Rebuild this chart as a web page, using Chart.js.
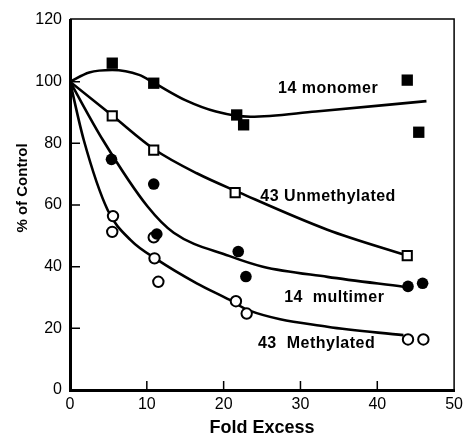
<!DOCTYPE html>
<html>
<head>
<meta charset="utf-8">
<script src="https://cdn.jsdelivr.net/npm/chart.js@4.4.1/dist/chart.umd.min.js"></script>
<style>
  html, body { margin: 0; padding: 0; background: #fff; }
</style>
</head>
<body>
<canvas id="chart" width="468" height="439"></canvas>
<script>
// measured points (fold excess, % of control)
const monomerX = [5.5, 10.9, 21.7, 22.6, 43.9, 45.4];
const monomerY = [106, 99.5, 89.2, 86, 100.5, 83.6];
const unmethX = [5.5, 10.9, 21.5, 43.9];
const unmethY = [88.9, 77.8, 64, 43.6];
const multimerX = [5.4, 10.9, 11.3, 21.9, 22.9, 44, 45.9];
const multimerY = [74.8, 66.8, 50.6, 44.9, 36.8, 33.6, 34.6];
const methX = [5.6, 5.5, 10.9, 11.0, 11.5, 21.6, 23.0, 44.0, 46.0];
const methY = [56.4, 51.3, 49.5, 42.7, 35.1, 28.8, 24.8, 16.4, 16.4];

// hand-drawn fit curves
const monomerFitX = [0, 2.5, 5.5, 9, 11, 15, 19, 23.5, 32, 46.4];
const monomerFitY = [100, 103, 103.8, 102.2, 99.5, 94, 90.3, 88.6, 90.3, 93.7];
const unmethFitX = [0, 5.5, 11, 16.5, 22, 33.5, 44];
const unmethFitY = [100, 89, 78, 70.3, 64.1, 52, 43.5];
const multimerFitX = [0, 4.3, 10.1, 13.5, 20.7, 25.1, 33.5, 43.4];
const multimerFitY = [100, 81, 59.5, 51, 43.5, 40, 36.7, 33.5];
const methFitX = [0, 1.8, 4.9, 7.9, 11.4, 16.5, 20.8, 23.2, 33.5, 43.4];
const methFitY = [100, 81, 58.4, 48.6, 42.2, 34.6, 29.2, 25.9, 20.5, 17.8];

// tick values
const xTicks = [0, 10, 20, 30, 40, 50];
const yTicks = [0, 20, 40, 60, 80, 100, 120];

// curve labels: text and anchor in data units
const labelText = ['14 monomer', '43 Unmethylated', '14  multimer', '43  Methylated'];
const labelX = [33.6, 33.6, 34.4, 32.1];
const labelY = [97.6, 62.8, 30, 15.1];

const toPts = (xs, ys) => xs.map((x, i) => ({ x: x, y: ys[i] }));

const fit = (xs, ys) => ({
  data: toPts(xs, ys),
  showLine: true,
  pointRadius: 0,
  borderColor: '#000',
  borderWidth: 2.6,
  cubicInterpolationMode: 'monotone',
  order: 2
});

const marks = (xs, ys, style, r, open) => ({
  data: toPts(xs, ys),
  showLine: false,
  pointStyle: style,
  pointRadius: r,
  backgroundColor: open ? '#fff' : '#000',
  borderColor: '#000',
  borderWidth: open ? 2 : 0,
  order: 1
});

const decor = {
  id: 'decor',
  afterDraw(chart) {
    const { ctx, chartArea: a, scales: { x, y } } = chart;
    ctx.save();
    ctx.strokeStyle = '#000';
    ctx.lineWidth = 1.5;
    ctx.beginPath();
    // top and right frame
    ctx.moveTo(a.left, a.top - 1);
    ctx.lineTo(a.right, a.top - 1);
    ctx.lineTo(a.right, a.bottom);
    // inward tick marks
    xTicks.slice(1, -1).forEach(v => {
      const px = x.getPixelForValue(v);
      ctx.moveTo(px, a.bottom);
      ctx.lineTo(px, a.bottom - 9);
    });
    yTicks.slice(1, -1).forEach(v => {
      const py = y.getPixelForValue(v);
      ctx.moveTo(a.left, py);
      ctx.lineTo(a.left + 10, py);
    });
    ctx.stroke();

    ctx.fillStyle = '#000';
    ctx.textAlign = 'center';
    ctx.textBaseline = 'middle';
    ctx.letterSpacing = '0.5px';
    ctx.font = 'bold 16px "Liberation Sans", Arial, sans-serif';
    labelText.forEach((t, i) => {
      ctx.fillText(t, x.getPixelForValue(labelX[i]), y.getPixelForValue(labelY[i]));
    });

    // y axis title
    ctx.letterSpacing = '0px';
    ctx.font = 'bold 15px "Liberation Sans", Arial, sans-serif';
    ctx.translate(23, 188);
    ctx.rotate(-Math.PI / 2);
    ctx.fillText('% of Control', 0, 0);
    ctx.restore();
  }
};

new Chart(document.getElementById('chart'), {
  type: 'scatter',
  data: {
    datasets: [
      marks(monomerX, monomerY, 'rect', 8, false),
      marks(unmethX, unmethY, 'rect', 6.5, true),
      marks(multimerX, multimerY, 'circle', 5.8, false),
      marks(methX, methY, 'circle', 5.2, true),
      fit(monomerFitX, monomerFitY),
      fit(unmethFitX, unmethFitY),
      fit(multimerFitX, multimerFitY),
      fit(methFitX, methFitY)
    ]
  },
  options: {
    responsive: false,
    animation: false,
    events: [],
    layout: { padding: { left: 0, right: 10, top: 20, bottom: 0 } },
    plugins: { legend: { display: false }, tooltip: { enabled: false } },
    scales: {
      x: {
        type: 'linear',
        min: 0,
        max: 50,
        afterFit: s => { s.height = 49; },
        afterBuildTicks: s => { s.ticks = xTicks.map(v => ({ value: v })); },
        grid: { display: false, drawTicks: false },
        border: { display: true, color: '#000', width: 3 },
        ticks: {
          color: '#000',
          padding: 5,
          font: { family: '"Liberation Sans", Arial, sans-serif', size: 16 }
        },
        title: {
          display: true,
          text: 'Fold Excess',
          color: '#000',
          padding: { top: 4, bottom: 0 },
          font: { family: '"Liberation Sans", Arial, sans-serif', size: 18, weight: 'bold' }
        }
      },
      y: {
        type: 'linear',
        min: 0,
        max: 120,
        afterFit: s => { s.width = 70; },
        afterBuildTicks: s => { s.ticks = yTicks.map(v => ({ value: v })); },
        grid: { display: false, drawTicks: false },
        border: { display: true, color: '#000', width: 3 },
        ticks: {
          color: '#000',
          padding: 8,
          font: { family: '"Liberation Sans", Arial, sans-serif', size: 16 }
        }
      }
    }
  },
  plugins: [decor]
});
</script>
</body>
</html>
